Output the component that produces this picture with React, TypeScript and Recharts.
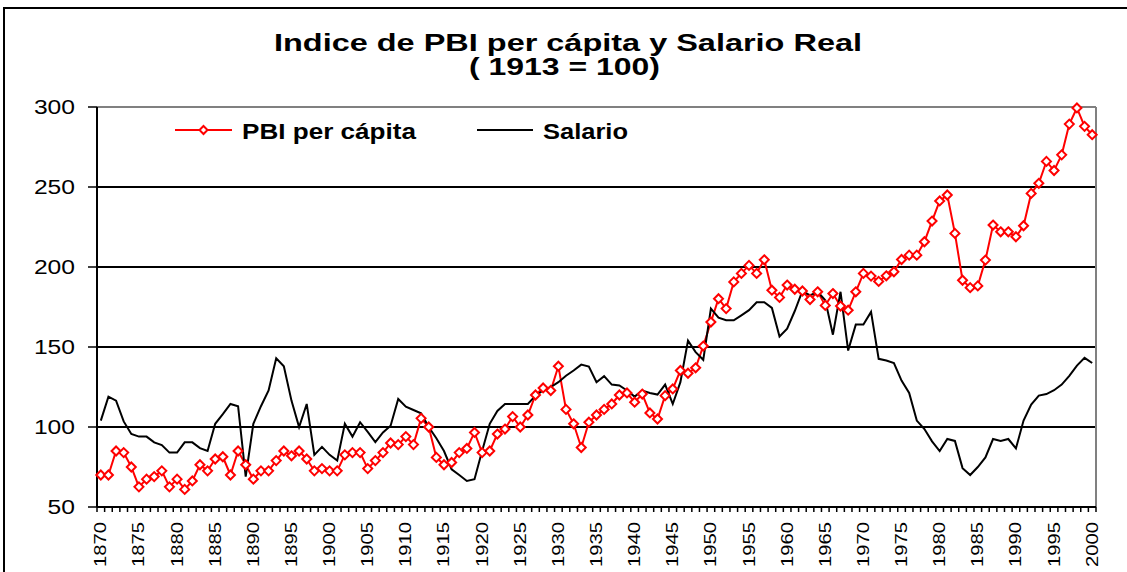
import { LineChart, Line, XAxis, YAxis, CartesianGrid, Legend, ReferenceLine } from 'recharts';

const FONT = "Arial, 'Liberation Sans', sans-serif";

// 1870 .. 2000
const years: number[] = Array.from({ length: 131 }, (_, i) => 1870 + i);

const pbiPerCapita = [
  70, 70, 85, 84, 75, 62.6, 67.4, 69, 72.6, 62.6,
  67.4, 61, 66.3, 76.4, 72.6, 80, 81.4, 70, 85, 76.4,
  67.4, 72.6, 72.6, 79, 85, 82, 85, 80, 72.6, 74,
  72.6, 72.6, 82.6, 84, 84, 74, 79, 84, 90, 89,
  94, 89, 105.4, 100, 81, 76.4, 77.8, 84, 86.6, 96.6,
  84, 85, 95.6, 98.7, 106.5, 100, 107.5, 120, 124.4, 122.8,
  138, 111, 102, 87.2, 103, 107.5, 111, 114.4, 120, 121.3,
  115.5, 120.6, 108.8, 105, 119.6, 123.8, 135.3, 133.6, 137, 150.6,
  165.6, 180.2, 174, 190.7, 196, 201, 196, 204.5, 185.5, 181,
  188.7, 186.1, 185, 179.7, 184.5, 176, 183.4, 175.6, 173, 184.5,
  196, 194.3, 191, 194.5, 197, 204.7, 207.4, 207.4, 215.8, 228.7,
  241.3, 245, 221, 191.7, 187.1, 188.2, 204.3, 226.2, 222, 222,
  218.9, 225.8, 246, 252.3, 266, 260.3, 270.1, 289.3, 299.4, 287.9,
  282.7,
];

const salario = [
  104, 119, 116.5, 103.5, 95.6, 94, 94, 90.4, 88.7, 84,
  84, 90.4, 90.4, 86.8, 85, 102, 108, 114.4, 113, 69,
  102, 113, 122.8, 143, 138, 116.5, 100, 114.4, 82.6, 87.6,
  82.6, 79, 102, 94, 103, 97, 90.6, 96.6, 100.8, 117.5,
  112.7, 110.6, 108.5, 100, 93, 85, 73.6, 70, 66.3, 67.4,
  85, 102, 110, 114.4, 114.4, 114.4, 114.4, 119.6, 122.8, 125,
  128, 132, 135.3, 139, 137.8, 128, 131.8, 126.5, 126, 122.8,
  119, 122.8, 121.3, 120.3, 126.5, 114.4, 128, 154, 146.8, 142,
  174, 168.3, 166.7, 166.7, 169.8, 173, 178, 178, 174.4, 156.6,
  161.4, 172.5, 185, 182.3, 184.5, 179.2, 157.7, 184.5, 147.8, 164,
  164, 171.9, 142.6, 141.6, 140, 129, 121.3, 104, 98.7, 91,
  85, 92.5, 91.3, 74.3, 70, 75, 81, 92.5, 91.3, 92.5,
  86.6, 104, 114, 119.6, 120.6, 123, 126.5, 132, 138.4, 143.2,
  140,
];

const yTicks = [50, 100, 150, 200, 250, 300];

const data = years.map((year, i) => ({
  year,
  pbi: pbiPerCapita[i],
  salario: salario[i],
}));

const W = 1127;
const H = 572;
const PLOT_LEFT = 97;
const PLOT_RIGHT = 31;
const HALF_BAND = (W - PLOT_LEFT - PLOT_RIGHT) / years.length / 2;

function Diamond(props: any) {
  const { cx, cy, index } = props;
  if (cx == null || cy == null) return null;
  const r = 4.5;
  return (
    <polygon
      key={`d-${index}`}
      points={`${cx},${cy - r} ${cx + r},${cy} ${cx},${cy + r} ${cx - r},${cy}`}
      fill="#fff"
      stroke="#ff0000"
      strokeWidth={2}
    />
  );
}

function YearTick(props: any) {
  const { x, y, payload } = props;
  const year = payload.value as number;
  const last = year === years[years.length - 1];
  return (
    <g>
      <line x1={x - HALF_BAND} x2={x - HALF_BAND} y1={y} y2={y + 5} stroke="#000" strokeWidth={1.5} />
      {last && <line x1={x + HALF_BAND} x2={x + HALF_BAND} y1={y} y2={y + 5} stroke="#000" strokeWidth={1.5} />}
      {year % 5 === 0 && (
        <text
          x={x}
          y={y + 15}
          transform={`rotate(-90, ${x}, ${y + 15})`}
          textAnchor="end"
          dominantBaseline="central"
          fontFamily={FONT}
          fontSize={16}
          fill="#000"
          textLength={45}
          lengthAdjust="spacingAndGlyphs"
        >
          {year}
        </text>
      )}
    </g>
  );
}

function ValueTick(props: any) {
  const { x, y, payload } = props;
  const label = String(payload.value);
  return (
    <g>
      <line x1={x - 9} x2={x} y1={y} y2={y} stroke="#000" strokeWidth={1.5} />
      <text
        x={x - 22}
        y={y}
        textAnchor="end"
        dominantBaseline="central"
        fontFamily={FONT}
        fontSize={20}
        fill="#000"
        textLength={label.length * 13.7}
        lengthAdjust="spacingAndGlyphs"
      >
        {label}
      </text>
    </g>
  );
}

const LEGEND_SLOTS = [
  { x1: 175, x2: 232, tx: 242, tw: 174 },
  { x1: 477, x2: 533, tx: 543, tw: 85 },
];

function renderLegend(props: any) {
  const payload = props.payload || [];
  return (
    <svg width={W} height={150} style={{ display: 'block' }}>
      {payload.map((entry: any, i: number) => {
        const s = LEGEND_SLOTS[i];
        if (!s) return null;
        const isPbi = entry.dataKey === 'pbi';
        const mid = (s.x1 + s.x2) / 2;
        return (
          <g key={entry.value}>
            <line x1={s.x1} x2={s.x2} y1={130} y2={130} stroke={entry.color} strokeWidth={2} />
            {isPbi && (
              <polygon
                points={`${mid},${126} ${mid + 4},${130} ${mid},${134} ${mid - 4},${130}`}
                fill="#fff"
                stroke="#ff0000"
                strokeWidth={2}
              />
            )}
            <text
              x={s.tx}
              y={139}
              fontFamily={FONT}
              fontWeight="bold"
              fontSize={22}
              fill="#000"
              textLength={s.tw}
              lengthAdjust="spacingAndGlyphs"
            >
              {entry.value}
            </text>
          </g>
        );
      })}
    </svg>
  );
}

export default function App() {
  return (
    <div style={{ position: 'absolute', left: 0, top: 0, width: W, height: H, overflow: 'hidden', background: '#fff' }}>
      <div
        style={{
          position: 'absolute',
          left: 3,
          top: 7,
          width: 1300,
          height: 900,
          border: '2px solid #000',
        }}
      />
      <div style={{ position: 'absolute', left: 0, top: 0 }}>
        <LineChart width={W} height={H} data={data} margin={{ top: 107, right: PLOT_RIGHT, bottom: 5, left: 0 }}>
          <CartesianGrid horizontal vertical={false} stroke="#000" strokeWidth={2} />
          <XAxis
            dataKey="year"
            type="number"
            domain={[1869.5, 2000.5]}
            ticks={years}
            interval={0}
            height={60}
            tickLine={false}
            tickSize={0}
            tickMargin={0}
            tick={<YearTick />}
            axisLine={{ stroke: '#000', strokeWidth: 2 }}
          />
          <YAxis
            domain={[50, 300]}
            ticks={yTicks}
            interval={0}
            width={PLOT_LEFT}
            tickLine={false}
            tickSize={0}
            tickMargin={0}
            tick={<ValueTick />}
            axisLine={{ stroke: '#000', strokeWidth: 2 }}
          />
          <ReferenceLine y={300} stroke="#808080" strokeWidth={2} />
          <ReferenceLine x={2000.5} stroke="#808080" strokeWidth={2} />
          <Legend
            layout="horizontal"
            verticalAlign="middle"
            align="center"
            content={renderLegend}
            wrapperStyle={{ position: 'absolute', left: 0, top: 0, width: W, height: 150 }}
          />
          <Line
            name="PBI per cápita"
            dataKey="pbi"
            stroke="#ff0000"
            strokeWidth={2}
            dot={<Diamond />}
            activeDot={false}
            isAnimationActive={false}
          />
          <Line
            name="Salario"
            dataKey="salario"
            stroke="#000"
            strokeWidth={2}
            dot={false}
            activeDot={false}
            isAnimationActive={false}
          />
        </LineChart>
      </div>
      <svg width={W} height={100} style={{ position: 'absolute', left: 0, top: 0, pointerEvents: 'none' }}>
        <text
          x={274}
          y={51}
          fontFamily={FONT}
          fontWeight="bold"
          fontSize={23}
          fill="#000"
          textLength={588}
          lengthAdjust="spacingAndGlyphs"
        >
          Indice de PBI per cápita y Salario Real
        </text>
        <text
          x={469}
          y={75}
          fontFamily={FONT}
          fontWeight="bold"
          fontSize={23}
          fill="#000"
          textLength={191}
          lengthAdjust="spacingAndGlyphs"
        >
          ( 1913 = 100)
        </text>
      </svg>
    </div>
  );
}
